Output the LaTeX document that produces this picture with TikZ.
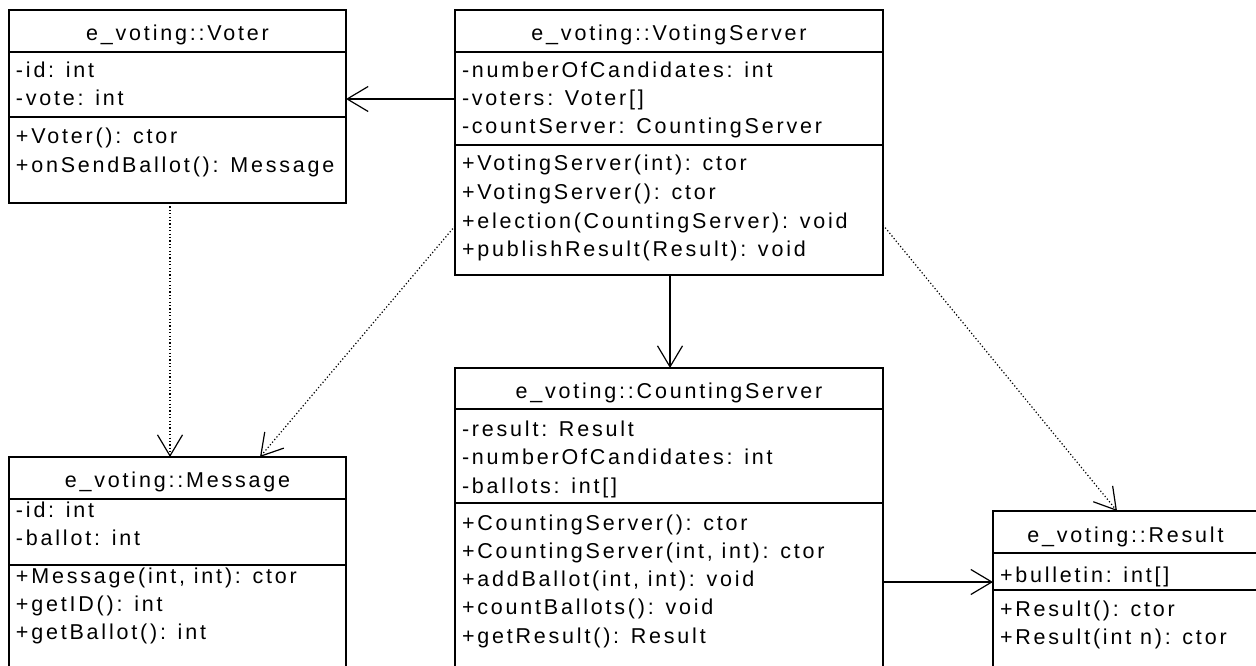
\documentclass[tikz,border=0pt]{standalone}
\usepackage{fontspec}
\setmainfont{Liberation Sans}[LetterSpace=13]
\usetikzlibrary{arrows.meta,calc}
\tikzset{
  classbox/.style={draw=black, line width=1.6pt, outer sep=0pt, inner sep=0pt, anchor=north west},
  sepline/.style={line width=1.2pt},
  txt/.style={inner sep=0pt, outer sep=0pt, font=\fontsize{21.5}{28}\selectfont},
  assoc/.style={line width=1.2pt, -{Straight Barb[length=21pt,width=25pt]}},
  dep/.style={line width=1.2pt, dash pattern=on 1.2pt off 2.2pt, -{Straight Barb[length=21pt,width=25pt]}}
}
\newcommand{\mline}[4]{\node[txt, anchor=base west] (#1) at ($(#2.west |- 0,#3)+(7,0)$) {#4};}
\newcommand{\mtitle}[4]{\node[txt, anchor=base] (#1) at (#2.north |- 0,#3) {#4};}
\newcommand{\msep}[2]{\draw[sepline] (#1.west |- 0,#2) -- (#1.east |- 0,#2);}
\begin{document}
\begin{tikzpicture}[x=1pt,y=-1pt]
\clip (0,0) rectangle (1256,666);
\fill[white] (0,0) rectangle (1256,666);
% Voter
\node[classbox, minimum width=337pt, minimum height=193pt] (voter) at (9,10) {};
\msep{voter}{52}\msep{voter}{117}
\mtitle{voterT}{voter}{41}{e\_voting::Voter}
\mline{voterA1}{voter}{78}{-id: int}
\mline{voterA2}{voter}{106}{-vote: int}
\mline{voterM1}{voter}{144}{+Voter(): ctor}
\mline{voterM2}{voter}{172}{+onSendBallot(): Message}
% VotingServer
\node[classbox, minimum width=428pt, minimum height=265pt] (vs) at (455,10) {};
\msep{vs}{52}\msep{vs}{145}
\mtitle{vsT}{vs}{41}{e\_voting::VotingServer}
\mline{vsA1}{vs}{78}{-numberOfCandidates: int}
\mline{vsA2}{vs}{106}{-voters: Voter[]}
\mline{vsA3}{vs}{134}{-countServer: CountingServer}
\mline{vsM1}{vs}{171}{+VotingServer(int): ctor}
\mline{vsM2}{vs}{200}{+VotingServer(): ctor}
\mline{vsM3}{vs}{228}{+election(CountingServer): void}
\mline{vsM4}{vs}{256}{+publishResult(Result): void}
% Message
\node[classbox, minimum width=337pt, minimum height=260pt] (msg) at (9,457) {};
\msep{msg}{499}\msep{msg}{565}
\mtitle{msgT}{msg}{487}{e\_voting::Message}
\mline{msgA1}{msg}{517}{-id: int}
\mline{msgA2}{msg}{545}{-ballot: int}
\mline{msgM1}{msg}{583}{+Message(int, int): ctor}
\mline{msgM2}{msg}{611}{+getID(): int}
\mline{msgM3}{msg}{639}{+getBallot(): int}
% CountingServer
\node[classbox, minimum width=428pt, minimum height=340pt] (cs) at (455,368) {};
\msep{cs}{409}\msep{cs}{503}
\mtitle{csT}{cs}{398}{e\_voting::CountingServer}
\mline{csA1}{cs}{436}{-result: Result}
\mline{csA2}{cs}{464}{-numberOfCandidates: int}
\mline{csA3}{cs}{493}{-ballots: int[]}
\mline{csM1}{cs}{530}{+CountingServer(): ctor}
\mline{csM2}{cs}{558}{+CountingServer(int, int): ctor}
\mline{csM3}{cs}{586}{+addBallot(int, int): void}
\mline{csM4}{cs}{614}{+countBallots(): void}
\mline{csM5}{cs}{643}{+getResult(): Result}
% Result
\node[classbox, minimum width=265pt, minimum height=220pt] (res) at (993,511) {};
\msep{res}{553}\msep{res}{590}
\mtitle{resT}{res}{542}{e\_voting::Result}
\mline{resA1}{res}{582}{+bulletin: int[]}
\mline{resM1}{res}{616}{+Result(): ctor}
\mline{resM2}{res}{644}{+Result(int n): ctor}
% connectors
\draw[assoc] (vs.west |- 0,99) -- (voter.east |- 0,99);
\draw[assoc] (vs.south -| 670,0) -- (cs.north -| 670,0);
\draw[assoc] (cs.east |- 0,582) -- (res.west |- 0,582);
\draw[dep] (voter.south -| 170,0) -- (msg.north -| 170,0);
\draw[dep] (vs.west |- 0,226) -- (msg.north -| 260,0);
\draw[dep] (vs.east |- 0,225) -- (res.north -| 1117,0);
\end{tikzpicture}
\end{document}
